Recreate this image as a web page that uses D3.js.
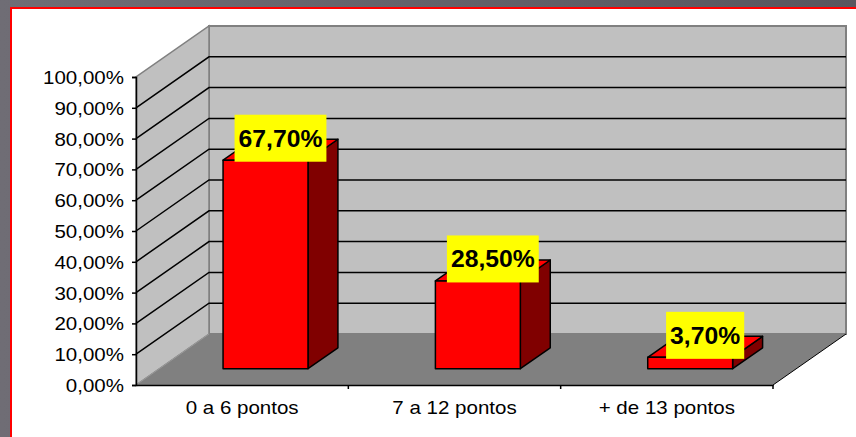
<!DOCTYPE html>
<html>
<head>
<meta charset="utf-8">
<script src="https://cdn.jsdelivr.net/npm/d3@7"></script>
<style>
  html, body { margin: 0; padding: 0; background: #5d5b63; }
  svg { display: block; }
</style>
</head>
<body>
<svg id="chart"></svg>
<script>
// data
const categories = ['0 a 6 pontos', '7 a 12 pontos', '+ de 13 pontos'];
const values = [0.677, 0.285, 0.037];
const yTicks = [0, 0.1, 0.2, 0.3, 0.4, 0.5, 0.6, 0.7, 0.8, 0.9, 1];

const width = 856, height = 437;
const depth = { dx: 73, dy: 51 };      // wall depth in px
const barDepth = [0.32, 0.73];          // bar front / back as fraction of depth

const svg = d3.select('#chart').attr('width', width).attr('height', height);

const ptBR = d3.formatLocale({ decimal: ',', thousands: '.', grouping: [3], currency: ['', ''] });
const pct = ptBR.format('.2%');
const font = 'Liberation Sans, Arial, sans-serif';

// outer frame
const grad = svg.append('defs').append('linearGradient')
  .attr('id', 'frame').attr('x1', 0).attr('y1', 0).attr('x2', 1).attr('y2', 0);
grad.append('stop').attr('offset', 0).attr('stop-color', '#6f6d75');
grad.append('stop').attr('offset', 1).attr('stop-color', '#58565e');
svg.append('rect').attr('width', width).attr('height', height).attr('fill', 'url(#frame)');
svg.append('rect')
  .attr('x', 11).attr('y', 8).attr('width', width).attr('height', height)
  .attr('fill', '#fff').attr('stroke', '#ff0000').attr('stroke-width', 2);

const x = d3.scaleBand().domain(categories).range([136, 773]).padding(0);
const y = d3.scaleLinear().domain([0, 1]).range([385, 77]);

// push a front-plane point back into depth d (0..1)
const proj = (px, py, d) => [px + d * depth.dx, py - d * depth.dy];
const poly = pts => 'M' + pts.map(p => p.join(',')).join('L') + 'Z';

const x0 = x.range()[0], x1 = x.range()[1];
const y0 = y(0), yTop = y(1);

// back wall
svg.append('path')
  .attr('d', poly([proj(x0, yTop, 1), proj(x1, yTop, 1), proj(x1, y0, 1), proj(x0, y0, 1)]))
  .attr('fill', '#c0c0c0').attr('stroke', '#808080').attr('stroke-width', 2);
// left wall
svg.append('path')
  .attr('d', poly([proj(x0, y0, 0), proj(x0, yTop, 0), proj(x0, yTop, 1), proj(x0, y0, 1)]))
  .attr('fill', '#c0c0c0').attr('stroke', '#808080').attr('stroke-width', 1.5);
// floor
svg.append('path')
  .attr('d', poly([proj(x0, y0, 0), proj(x1, y0, 0), proj(x1, y0, 1), proj(x0, y0, 1)]))
  .attr('fill', '#808080');
svg.append('line')
  .attr('x1', proj(x1, y0, 0)[0]).attr('y1', proj(x1, y0, 0)[1])
  .attr('x2', proj(x1, y0, 1)[0]).attr('y2', proj(x1, y0, 1)[1])
  .attr('stroke', '#000').attr('stroke-width', 1);
svg.append('line')
  .attr('x1', x0).attr('y1', y0)
  .attr('x2', proj(x0, y0, 1)[0]).attr('y2', proj(x0, y0, 1)[1])
  .attr('stroke', '#9a9a9a').attr('stroke-width', 1);

// gridlines on left and back walls
const grid = svg.append('g').attr('fill', 'none').attr('stroke', '#000').attr('stroke-width', 1.5);
yTicks.filter(t => t > 0 && t < 1).forEach(t => {
  const a = proj(x0, y(t), 0), b = proj(x0, y(t), 1), c = proj(x1, y(t), 1);
  grid.append('path').attr('d', 'M' + a + 'L' + b + 'L' + c);
});

// bars
const barW = x.bandwidth() * 0.4;
const barGeom = (v, i) => {
  const cx = x(categories[i]) + x.bandwidth() / 2;
  const l = cx - barW / 2, r = cx + barW / 2;
  const f = barDepth[0], k = barDepth[1];
  return {
    front: [proj(l, y(v), f), proj(r, y(v), f), proj(r, y(0), f), proj(l, y(0), f)],
    side: [proj(r, y(v), f), proj(r, y(v), k), proj(r, y(0), k), proj(r, y(0), f)],
    top: [proj(l, y(v), f), proj(l, y(v), k), proj(r, y(v), k), proj(r, y(v), f)],
  };
};

const bars = svg.selectAll('.bar').data(values).enter().append('g')
  .attr('class', 'bar')
  .attr('stroke', '#000').attr('stroke-width', 1.5).attr('stroke-linejoin', 'round');
bars.append('path').attr('d', (d, i) => poly(barGeom(d, i).side)).attr('fill', '#800000');
bars.append('path').attr('d', (d, i) => poly(barGeom(d, i).top)).attr('fill', '#ff0000');
bars.append('path').attr('d', (d, i) => poly(barGeom(d, i).front)).attr('fill', '#ff0000');

// axes
const yAxis = svg.append('g')
  .attr('transform', `translate(${x0},0)`)
  .call(d3.axisLeft(y).tickValues(yTicks).tickFormat(pct).tickSize(4).tickPadding(8));
yAxis.select('.domain').attr('stroke', '#000').attr('stroke-width', 1.5);
yAxis.selectAll('.tick line').attr('stroke', '#000').attr('stroke-width', 1.5);
yAxis.selectAll('.tick text')
  .attr('font-family', font).attr('font-size', 18).attr('fill', '#000')
  .attr('x', -12 / 1.14).attr('dy', '0.36em')
  .attr('transform', 'scale(1.14,1)');

const xAxis = svg.append('g')
  .attr('transform', `translate(0,${y0})`)
  .call(d3.axisBottom(x).tickSize(0).tickPadding(16));
xAxis.select('.domain').attr('stroke', '#000').attr('stroke-width', 1.5);
xAxis.selectAll('.tick text')
  .attr('font-family', font).attr('font-size', 18).attr('fill', '#000')
  .attr('transform', 'scale(1.14,1)');
// category separators
xAxis.selectAll('.sep').data(categories.slice(1).map(c => x(c)).concat([x1])).enter()
  .append('line').attr('class', 'sep')
  .attr('x1', d => d).attr('x2', d => d).attr('y1', 0).attr('y2', 4)
  .attr('stroke', '#000').attr('stroke-width', 1.5);

// value labels
const labels = svg.selectAll('.label').data(values).enter().append('g').attr('class', 'label');
labels.each(function (v, i) {
  const g = d3.select(this);
  const cx = x(categories[i]) + x.bandwidth() / 2;
  const mid = (barDepth[0] + barDepth[1]) / 2;
  const [px, py] = proj(cx, y(v), mid);
  const txt = g.append('text')
    .attr('font-family', font).attr('font-weight', 'bold').attr('font-size', 24)
    .attr('text-anchor', 'middle').attr('fill', '#000')
    .text(pct(v));
  const w = txt.node().getComputedTextLength() * 1.03 + 8;
  const bottom = py + 12, h = 47;
  g.insert('rect', 'text')
    .attr('x', px - w / 2).attr('y', bottom - h).attr('width', w).attr('height', h)
    .attr('fill', '#ffff00');
  txt.attr('transform', `translate(${px},${bottom - 15}) scale(1.03,1)`);
});
</script>
</body>
</html>
